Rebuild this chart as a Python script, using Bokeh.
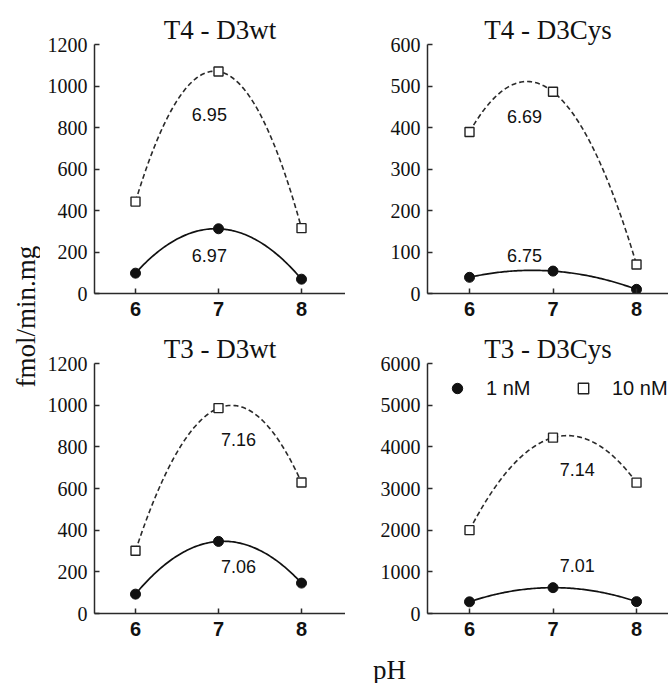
import numpy as np
from bokeh.plotting import figure
from bokeh.layouts import row, column
from bokeh.models import FixedTicker, Label, Legend, LegendItem, Range1d
from bokeh.embed import file_html
from bokeh.resources import INLINE
from bokeh.core.properties import value

# ---------------- data ----------------
ph = [6, 7, 8]
series_names = ["1 nM", "10 nM"]
panel_titles = ["T4 - D3wt", "T4 - D3Cys", "T3 - D3wt", "T3 - D3Cys"]

t4_d3wt_1nm = [98, 312, 69]
t4_d3wt_10nm = [443, 1070, 315]
t4_d3cys_1nm = [39, 54, 10]
t4_d3cys_10nm = [389, 486, 70]
t3_d3wt_1nm = [93, 346, 146]
t3_d3wt_10nm = [301, 986, 629]
t3_d3cys_1nm = [280, 620, 285]
t3_d3cys_10nm = [2000, 4220, 3140]

# optimum pH labels (1 nM, 10 nM)
t4_d3wt_opt = ["6.97", "6.95"]
t4_d3cys_opt = ["6.75", "6.69"]
t3_d3wt_opt = ["7.06", "7.16"]
t3_d3cys_opt = ["7.01", "7.14"]

yticks_1200 = [0, 200, 400, 600, 800, 1000, 1200]
yticks_600 = [0, 100, 200, 300, 400, 500, 600]
yticks_6000 = [0, 1000, 2000, 3000, 4000, 5000, 6000]
xticks = [6, 7, 8]

x_label = "pH"
y_label = "fmol/min.mg"

# ---------------- styling / layout ----------------
SERIF = "Liberation Serif"
SANS = "Liberation Sans"
AX_COL = "#2a2a2a"


def fit_curve(x, y):
    c = np.polyfit(x, y, 2)
    xs = np.linspace(min(x), max(x), 101)
    return xs, np.polyval(c, xs)


def make_panel(title, v1, v10, opt, ymax, yticks, xr, width, height,
               b_left, b_top, b_bottom, title_offset, lab_pos, legend=False):
    p = figure(width=width, height=height, output_backend="svg",
               toolbar_location=None, x_range=Range1d(*xr),
               y_range=Range1d(0, ymax), title=title,
               min_border_left=b_left, min_border_right=0,
               min_border_top=b_top, min_border_bottom=b_bottom)
    p.outline_line_color = None
    p.grid.visible = False
    p.background_fill_color = "white"
    p.border_fill_color = "white"

    p.title.text_font = SERIF
    p.title.text_font_size = "27px"
    p.title.text_font_style = "normal"
    p.title.text_color = "#111111"
    p.title.align = "center"
    p.title.standoff = 0
    p.title.offset = title_offset

    for ax in (p.xaxis[0], p.yaxis[0]):
        ax.axis_line_color = AX_COL
        ax.axis_line_width = 1.5
        ax.major_tick_line_color = AX_COL
        ax.major_tick_line_width = 1.5
        ax.major_tick_in = 5
        ax.major_tick_out = 0
        ax.minor_tick_line_color = None
        ax.major_label_text_color = "#111111"
    p.xaxis.ticker = FixedTicker(ticks=xticks)
    p.yaxis.ticker = FixedTicker(ticks=yticks)
    p.xaxis.major_label_text_font = SANS
    p.xaxis.major_label_text_font_size = "20px"
    p.xaxis.major_label_text_font_style = "bold"
    p.xaxis.major_label_standoff = 8
    p.yaxis.major_label_text_font = SERIF
    p.yaxis.major_label_text_font_size = "20px"
    p.yaxis.major_label_standoff = 7

    xs1, ys1 = fit_curve(ph, v1)
    xs10, ys10 = fit_curve(ph, v10)
    p.line(xs10, ys10, line_color="#2a2a2a", line_width=1.6, line_dash="5 3")
    p.line(xs1, ys1, line_color="#111111", line_width=1.7)
    r1 = p.scatter(ph, v1, marker="circle", size=10, fill_color="#111111",
                   line_color="#111111")
    r10 = p.scatter(ph, v10, marker="square", size=9, fill_color="white",
                    line_color="#222222", line_width=1.4)

    for txt, (lx, ly) in zip(opt, lab_pos):
        p.add_layout(Label(x=lx, y=ly, text=txt, text_align="center",
                           text_baseline="middle", text_font=SANS,
                           text_font_size="18px", text_color="#111111"))

    if legend:
        for name, rend, loc in ((series_names[0], r1, (17, 212)),
                                (series_names[1], r10, (143, 212))):
            lg = Legend(items=[LegendItem(label=name, renderers=[rend])],
                        location=loc, orientation="horizontal",
                        glyph_width=26, glyph_height=26, label_standoff=16,
                        padding=0, margin=0, border_line_color=None,
                        background_fill_alpha=0,
                        label_text_font=SANS, label_text_font_size="20px",
                        label_text_color="#111111")
            p.add_layout(lg, "center")
    return p


def label_strip(width, height, label):
    s = figure(width=width, height=height, output_backend="svg",
               toolbar_location=None, x_range=Range1d(0, 1),
               y_range=Range1d(0, 1), min_border=0)
    s.axis.visible = False
    s.grid.visible = False
    s.outline_line_color = None
    s.border_fill_color = "white"
    s.background_fill_color = "white"
    s.add_layout(label)
    return s


p1 = make_panel(panel_titles[0], t4_d3wt_1nm, t4_d3wt_10nm, t4_d3wt_opt,
                1200, yticks_1200, (5.506, 8.53), 305, 330, 54, 44, 37, 0,
                [(6.89, 183), (6.89, 863)])
p2 = make_panel(panel_titles[1], t4_d3cys_1nm, t4_d3cys_10nm, t4_d3cys_opt,
                600, yticks_600, (5.497, 8.383), 323, 330, 82, 44, 37, 5,
                [(6.66, 91), (6.66, 427)])
p3 = make_panel(panel_titles[2], t3_d3wt_1nm, t3_d3wt_10nm, t3_d3wt_opt,
                1200, yticks_1200, (5.506, 8.53), 305, 320, 54, 33, 37, 0,
                [(7.24, 224), (7.24, 837)])
p4 = make_panel(panel_titles[3], t3_d3cys_1nm, t3_d3cys_10nm, t3_d3cys_opt,
                6000, yticks_6000, (5.497, 8.383), 323, 320, 82, 33, 37, 5,
                [(7.29, 1145), (7.29, 3466)], legend=True)

# bottom strip with the shared x-axis label
xstrip = label_strip(628, 33, Label(
    x=349, y=14, x_units="screen", y_units="screen", text=x_label,
    text_align="center", text_baseline="alphabetic", text_font=SERIF,
    text_font_size="27px", text_color="#111111"))

# left strip with the shared y-axis label
ystrip = label_strip(40, 683, Label(
    x=25, y=683 - 316, x_units="screen", y_units="screen", text=y_label,
    angle=np.pi / 2, text_align="center", text_baseline="middle",
    text_font=SERIF, text_font_size="27px", text_color="#111111"))

layout = row(ystrip, column(row(p1, p2), row(p3, p4), xstrip))

with open("out.html", "w") as f:
    f.write(file_html(layout, INLINE))
